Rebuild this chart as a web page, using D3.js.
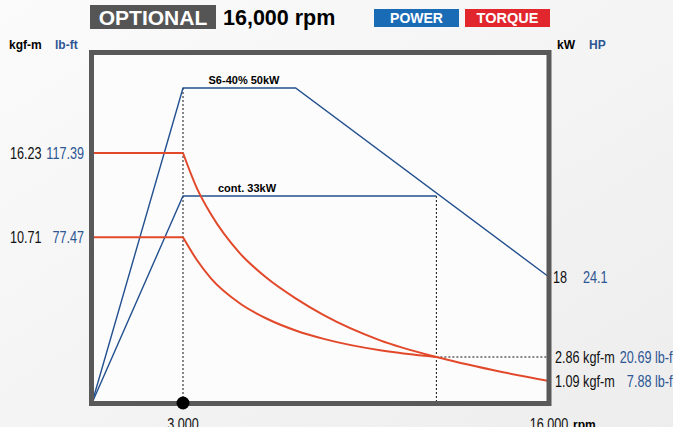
<!DOCTYPE html>
<html>
<head>
<meta charset="utf-8">
<script src="https://cdn.jsdelivr.net/npm/d3@7"></script>
<style>
  html, body { margin: 0; padding: 0; }
  body { width: 673px; height: 427px; overflow: hidden; background: #f4f4f4; }
  svg { display: block; }
  .narrow { font-family: 'Liberation Sans', Arial, sans-serif; font-size: 16px; }
  .bold { font-family: 'Liberation Sans', Arial, sans-serif; font-weight: bold; }
</style>
</head>
<body>
<div id="chart"></div>
<script>
// ---- data ----
const rpmTicks = [3000, 16000];
const rpmTickLabels = ["3,000", "16,000"];

const s6PowerRpm = [0, 3000, 7000, 16000];
const s6PowerKw = [0, 50, 50, 18];
const contPowerRpm = [0, 3000, 12000];
const contPowerKw = [0, 33, 33];

const s6TorqueRpm = [0, 3000, 3500, 4000, 5000, 6000, 7000, 8000, 10000, 12000, 14000, 16000];
const s6TorqueKgf = [16.23, 16.23, 13.9, 12.2, 9.7, 8.0, 6.7, 5.6, 3.95, 2.86, 1.9, 1.09];
const contTorqueRpm = [0, 3000, 3500, 4000, 5000, 6000, 7000, 8000, 10000, 12000];
const contTorqueKgf = [10.71, 10.71, 9.2, 8.0, 6.4, 5.35, 4.6, 4.05, 3.3, 2.86];

const leftKgf = [16.23, 10.71];
const leftLbft = ["117.39", "77.47"];
const rightKw = [18];
const rightHp = ["24.1"];
const rightKgf = [2.86, 1.09];
const rightLbft = ["20.69 lb-ft", "7.88 lb-ft"];

const w = 673, h = 427;
const blue = "#23508f", red = "#e2492b", textBlue = "#2d5693";

const svg = d3.select("#chart").append("svg").attr("width", w).attr("height", h);

// background
const defs = svg.append("defs");
const grad = defs.append("linearGradient").attr("id", "bg").attr("x1", 0).attr("y1", 0).attr("x2", 1).attr("y2", 1);
grad.append("stop").attr("offset", "0%").attr("stop-color", "#fbfbfb");
grad.append("stop").attr("offset", "100%").attr("stop-color", "#ededed");
svg.append("rect").attr("width", w).attr("height", h).attr("fill", "url(#bg)");

// scales (schematic chart, so piecewise)
const x = d3.scaleLinear().domain([0, 3000, 16000]).range([92, 183, 549]);
const yP = d3.scaleLinear().domain([0, 18, 33, 50]).range([403, 277, 196, 88]);
const yT = d3.scaleLinear().domain([0, 1.09, 2.86, 16.23]).range([403, 381, 357, 153]);

// condensed number text (no narrow font installed, so squeeze horizontally)
function narrowText(px, py, str, color, anchor) {
  return svg.append("text").attr("class", "narrow")
    .attr("transform", `translate(${px},${py}) scale(0.79,1)`)
    .attr("dy", "0.35em")
    .attr("text-anchor", anchor || "start")
    .attr("fill", color).text(str);
}

// plot area
svg.append("rect").attr("x", 91.5).attr("y", 52.5).attr("width", 457.5).attr("height", 351)
  .attr("fill", "#fcfcfc");

// dotted guides
const dotted = svg.append("g").attr("stroke", "#111").attr("stroke-width", 1).attr("stroke-dasharray", "2,2").attr("fill", "none");
dotted.append("line").attr("x1", x(3000)).attr("x2", x(3000)).attr("y1", yP(50)).attr("y2", yP(0));
dotted.append("line").attr("x1", x(12000)).attr("x2", x(12000)).attr("y1", yP(33)).attr("y2", yP(0));
dotted.append("line").attr("x1", x(12000)).attr("x2", x(16000)).attr("y1", yT(2.86)).attr("y2", yT(2.86));

// power lines
const pLine = d3.line().x(d => x(d[0])).y(d => yP(d[1]));
[[s6PowerRpm, s6PowerKw], [contPowerRpm, contPowerKw]].forEach(([r, v]) => {
  svg.append("path").datum(r.map((d, i) => [d, v[i]]))
    .attr("d", pLine).attr("fill", "none").attr("stroke", blue).attr("stroke-width", 1.4);
});

// torque curves: flat part + falling curve
const tFlat = d3.line().x(d => x(d[0])).y(d => yT(d[1]));
const tCurve = d3.line().x(d => x(d[0])).y(d => yT(d[1])).curve(d3.curveMonotoneX);
[[s6TorqueRpm, s6TorqueKgf], [contTorqueRpm, contTorqueKgf]].forEach(([r, v]) => {
  const pts = r.map((d, i) => [d, v[i]]);
  svg.append("path").datum(pts.slice(0, 2)).attr("d", tFlat)
    .attr("fill", "none").attr("stroke", red).attr("stroke-width", 2);
  svg.append("path").datum(pts.slice(1)).attr("d", tCurve)
    .attr("fill", "none").attr("stroke", red).attr("stroke-width", 2);
});

// frame
svg.append("rect").attr("x", 91.5).attr("y", 52.5).attr("width", 457.5).attr("height", 351)
  .attr("fill", "none").attr("stroke", "#595959").attr("stroke-width", 5);

// dot at base speed
svg.append("circle").attr("cx", x(3000)).attr("cy", yP(0)).attr("r", 6.5).attr("fill", "#000");

// curve labels
svg.append("text").attr("class", "bold").attr("font-size", 11).attr("x", 244).attr("y", yP(50) - 4)
  .attr("text-anchor", "middle").text("S6-40% 50kW");
svg.append("text").attr("class", "bold").attr("font-size", 11).attr("x", 247).attr("y", yP(33) - 4)
  .attr("text-anchor", "middle").text("cont. 33kW");

// header
svg.append("rect").attr("x", 90).attr("y", 5).attr("width", 126).attr("height", 24).attr("fill", "#555");
svg.append("text").attr("class", "bold").attr("font-size", 21).attr("fill", "#fff")
  .attr("x", 153).attr("y", 25).attr("text-anchor", "middle").text("OPTIONAL");
svg.append("text").attr("class", "bold").attr("font-size", 21.5).attr("fill", "#000")
  .attr("x", 223).attr("y", 25).text("16,000 rpm");
svg.append("rect").attr("x", 374).attr("y", 9).attr("width", 85).attr("height", 18).attr("fill", "#1a6bb6");
svg.append("text").attr("class", "bold").attr("font-size", 14).attr("fill", "#fff")
  .attr("x", 416.5).attr("y", 23).attr("text-anchor", "middle").text("POWER");
svg.append("rect").attr("x", 465).attr("y", 9).attr("width", 85).attr("height", 18).attr("fill", "#e1262d");
svg.append("text").attr("class", "bold").attr("font-size", 14.5).attr("fill", "#fff")
  .attr("x", 507.5).attr("y", 23).attr("text-anchor", "middle").text("TORQUE");

// axis unit titles
svg.append("text").attr("class", "bold").attr("font-size", 12).attr("x", 9).attr("y", 49).text("kgf-m");
svg.append("text").attr("class", "bold").attr("font-size", 12).attr("fill", textBlue).attr("x", 55).attr("y", 49).text("lb-ft");
svg.append("text").attr("class", "bold").attr("font-size", 12).attr("x", 557).attr("y", 49).text("kW");
svg.append("text").attr("class", "bold").attr("font-size", 12).attr("fill", textBlue).attr("x", 589).attr("y", 49).text("HP");

// left torque labels
leftKgf.forEach((v, i) => {
  narrowText(10, yT(v), v.toFixed(2), "#111");
  narrowText(84, yT(v), leftLbft[i], textBlue, "end");
});

// right power labels
rightKw.forEach((v, i) => {
  narrowText(553, yP(v), String(v), "#111");
  narrowText(583, yP(v), rightHp[i], textBlue);
});

// right torque labels
rightKgf.forEach((v, i) => {
  narrowText(555, yT(v), v.toFixed(2) + " kgf-m", "#111");
  narrowText(676, yT(v), rightLbft[i], textBlue, "end");
});

// rpm ticks
rpmTicks.forEach((v, i) => {
  narrowText(x(v), 424, rpmTickLabels[i], "#111", "middle");
});
svg.append("text").attr("class", "bold").attr("font-size", 12).attr("x", 573).attr("y", 429).text("rpm");
</script>
</body>
</html>
